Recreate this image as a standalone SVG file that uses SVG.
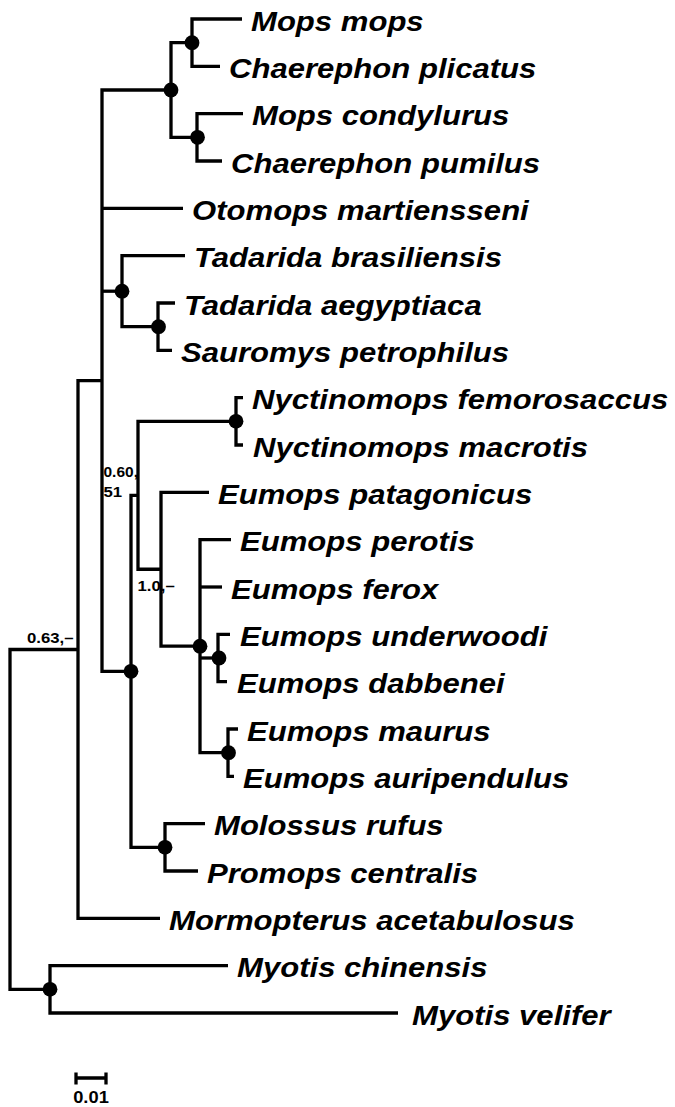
<svg xmlns="http://www.w3.org/2000/svg" width="675" height="1107" viewBox="0 0 675 1107">
<style>
.br{fill:none;stroke:#000;stroke-width:3.3;stroke-linejoin:miter;stroke-linecap:butt}
.nd{fill:#000}
.lb{font-family:"Liberation Sans",Arial,sans-serif;font-weight:bold;font-style:italic;font-size:28px;fill:#000}
.sp{font-family:"Liberation Sans",Arial,sans-serif;font-weight:bold;font-size:15.5px;fill:#000}
.sc{font-family:"Liberation Sans",Arial,sans-serif;font-weight:bold;font-size:16.5px;fill:#000}
</style>
<rect width="675" height="1107" fill="#fff"/>
<g id="connectors" class="br">
<path d="M242,19 H192 V66.3 H220"/>
<path d="M243,113.7 H197 V161 H222"/>
<path d="M192,42.65 H171 V137.35 H197"/>
<path d="M175,303 H158 V350.3 H172"/>
<path d="M185,255.7 H122 V326.65 H158"/>
<path d="M243,397.7 H236 V445 H243"/>
<path d="M230,634.3 H218 V681.7 H227"/>
<path d="M238,729 H228 V776.3 H234"/>
<path d="M231,539.7 H200 V752.65 H228"/>
<path d="M200,587 H222"/>
<path d="M200,658 H218"/>
<path d="M209,492.3 H161 V646.2 H200"/>
<path d="M236,421.35 H138 V569.25 H161"/>
<path d="M205,823.7 H165 V871 H198"/>
<path d="M138,495.3 H131 V847.35 H165"/>
<path d="M171,90 H102 V671.3 H131"/>
<path d="M102,208.3 H183"/>
<path d="M102,291.2 H122"/>
<path d="M102,380.65 H78 V918.3 H160"/>
<path d="M228,965.7 H50 V1013 H398"/>
<path d="M78,649.5 H10 V989.35 H50"/>
</g>
<g id="internal-nodes">
<circle id="n-mops-chaer" class="nd" cx="192" cy="42.65" r="7.4"/>
<circle id="n-condy-pumil" class="nd" cx="197.5" cy="137.35" r="7.4"/>
<circle id="n-mops-clade" class="nd" cx="171" cy="90" r="7.4"/>
<circle id="n-aeg-sauro" class="nd" cx="158.5" cy="326.65" r="7.4"/>
<circle id="n-tadarida" class="nd" cx="122" cy="291.2" r="7.4"/>
<circle id="n-nyctinomops" class="nd" cx="236" cy="421.35" r="7.4"/>
<circle id="n-underw-dabb" class="nd" cx="219" cy="658" r="7.4"/>
<circle id="n-maur-aurip" class="nd" cx="228.5" cy="752.65" r="7.4"/>
<circle id="n-eumops-core" class="nd" cx="200" cy="646.2" r="7.4"/>
<circle id="n-molossus" class="nd" cx="165" cy="847.35" r="7.4"/>
<circle id="n-molossinae" class="nd" cx="131" cy="671.3" r="7.4"/>
<circle id="n-myotis" class="nd" cx="50" cy="989.35" r="7.4"/>
</g>
<g id="support-labels">
<g id="s-060"><text class="sp" transform="translate(103.5,477) scale(1.0,1)">0.60,</text><text class="sp" transform="translate(103.5,497) scale(1.08,1)">51</text></g>
<g id="s-10"><text class="sp" transform="translate(137.5,591) scale(1.08,1)">1.0,–</text></g>
<g id="s-063"><text class="sp" transform="translate(27,643) scale(1.08,1)">0.63,–</text></g>
</g>
<g id="leaves">
<g id="leaf-mops-mops"><text class="lb" transform="translate(251,30.5) scale(1.11,1)">Mops mops</text></g>
<g id="leaf-chaerephon-plicatus"><text class="lb" transform="translate(229,77.8) scale(1.11,1)">Chaerephon plicatus</text></g>
<g id="leaf-mops-condylurus"><text class="lb" transform="translate(252,125.2) scale(1.11,1)">Mops condylurus</text></g>
<g id="leaf-chaerephon-pumilus"><text class="lb" transform="translate(231,172.5) scale(1.11,1)">Chaerephon pumilus</text></g>
<g id="leaf-otomops"><text class="lb" transform="translate(192,219.8) scale(1.11,1)">Otomops martiensseni</text></g>
<g id="leaf-tadarida-brasiliensis"><text class="lb" transform="translate(194,267.2) scale(1.11,1)">Tadarida brasiliensis</text></g>
<g id="leaf-tadarida-aegyptiaca"><text class="lb" transform="translate(184,314.5) scale(1.11,1)">Tadarida aegyptiaca</text></g>
<g id="leaf-sauromys"><text class="lb" transform="translate(181,361.8) scale(1.11,1)">Sauromys petrophilus</text></g>
<g id="leaf-nyct-femorosaccus"><text class="lb" transform="translate(252,409.2) scale(1.11,1)">Nyctinomops femorosaccus</text></g>
<g id="leaf-nyct-macrotis"><text class="lb" transform="translate(253,456.5) scale(1.11,1)">Nyctinomops macrotis</text></g>
<g id="leaf-eumops-patagonicus"><text class="lb" transform="translate(218,503.8) scale(1.11,1)">Eumops patagonicus</text></g>
<g id="leaf-eumops-perotis"><text class="lb" transform="translate(240,551.2) scale(1.11,1)">Eumops perotis</text></g>
<g id="leaf-eumops-ferox"><text class="lb" transform="translate(231,598.5) scale(1.11,1)">Eumops ferox</text></g>
<g id="leaf-eumops-underwoodi"><text class="lb" transform="translate(240,645.8) scale(1.11,1)">Eumops underwoodi</text></g>
<g id="leaf-eumops-dabbenei"><text class="lb" transform="translate(237,693.2) scale(1.11,1)">Eumops dabbenei</text></g>
<g id="leaf-eumops-maurus"><text class="lb" transform="translate(247,740.5) scale(1.11,1)">Eumops maurus</text></g>
<g id="leaf-eumops-auripendulus"><text class="lb" transform="translate(243,787.8) scale(1.11,1)">Eumops auripendulus</text></g>
<g id="leaf-molossus-rufus"><text class="lb" transform="translate(214,835.2) scale(1.11,1)">Molossus rufus</text></g>
<g id="leaf-promops-centralis"><text class="lb" transform="translate(207,882.5) scale(1.11,1)">Promops centralis</text></g>
<g id="leaf-mormopterus"><text class="lb" transform="translate(169,929.8) scale(1.11,1)">Mormopterus acetabulosus</text></g>
<g id="leaf-myotis-chinensis"><text class="lb" transform="translate(237,977.2) scale(1.11,1)">Myotis chinensis</text></g>
<g id="leaf-myotis-velifer"><text class="lb" transform="translate(412,1024.5) scale(1.11,1)">Myotis velifer</text></g>
</g>
<g id="scale-bar">
<path class="br" d="M76,1078 H106 M76,1072.5 V1084.5 M106,1072.5 V1084.5"/>
<text class="sc" text-anchor="middle" transform="translate(91,1103) scale(1.11,1)">0.01</text>
</g>
</svg>
